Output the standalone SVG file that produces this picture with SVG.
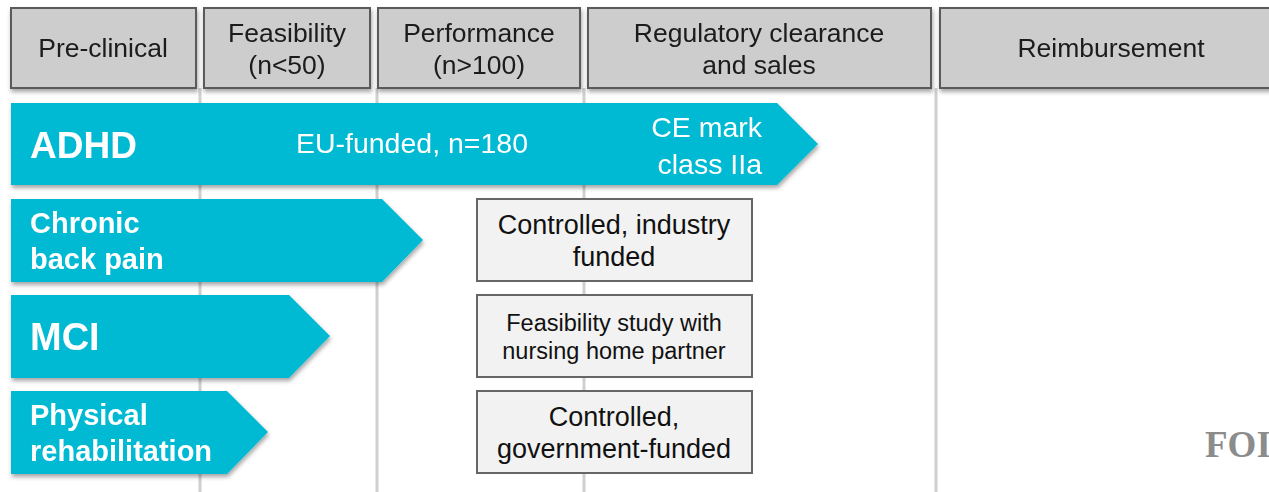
<svg xmlns="http://www.w3.org/2000/svg" width="1269" height="492" viewBox="0 0 1269 492">
<defs>
<filter id="sh" x="-5%" y="-10%" width="115%" height="130%">
<feDropShadow dx="1" dy="3" stdDeviation="2" flood-color="#000" flood-opacity="0.35"/>
</filter>
<style>
.hdr{fill:#cdcdcd;stroke:#5a5a5a;stroke-width:2}
.ht{font-family:"Liberation Sans",Arial,sans-serif;font-size:26.5px;fill:#1a1a1a;text-anchor:middle}
.arr{fill:#00b9d3}
.lb{font-family:"Liberation Sans",Arial,sans-serif;font-weight:bold;fill:#fff}
.wt{font-family:"Liberation Sans",Arial,sans-serif;font-size:28.5px;fill:#fff}
.bx{fill:#f2f2f2;stroke:#666;stroke-width:2}
.bt{font-family:"Liberation Sans",Arial,sans-serif;fill:#111;text-anchor:middle}
.vl{stroke:#cfcfcf;stroke-width:3}
</style>
</defs>
<rect width="1269" height="492" fill="#fff"/>
<g id="connectors">
<line class="vl" x1="200" y1="88" x2="200" y2="492"/>
<line class="vl" x1="377" y1="88" x2="377" y2="492"/>
<line class="vl" x1="584" y1="88" x2="584" y2="492"/>
<line class="vl" x1="936" y1="88" x2="936" y2="492"/>
</g>
<g id="h-preclinical" filter="url(#sh)">
<rect class="hdr" x="11" y="8" width="185" height="80"/>
<text class="ht" x="103" y="57">Pre-clinical</text>
</g>
<g id="h-feasibility" filter="url(#sh)">
<rect class="hdr" x="204" y="8" width="166" height="80"/>
<text class="ht" x="287" y="42">Feasibility</text>
<text class="ht" x="287" y="74">(n&lt;50)</text>
</g>
<g id="h-performance" filter="url(#sh)">
<rect class="hdr" x="378" y="8" width="202" height="80"/>
<text class="ht" x="479" y="42">Performance</text>
<text class="ht" x="479" y="74">(n&gt;100)</text>
</g>
<g id="h-regulatory" filter="url(#sh)">
<rect class="hdr" x="588" y="8" width="343" height="80"/>
<text class="ht" x="759" y="42">Regulatory clearance</text>
<text class="ht" x="759" y="74">and sales</text>
</g>
<g id="h-reimbursement" filter="url(#sh)">
<rect class="hdr" x="940" y="8" width="340" height="80"/>
<text class="ht" x="1111" y="57">Reimbursement</text>
</g>
<g id="adhd" filter="url(#sh)">
<polygon class="arr" points="11,103 777,103 818,144 777,185 11,185"/>
<text class="lb" x="30" y="158" font-size="37">ADHD</text>
<text class="wt" x="412" y="153" text-anchor="middle">EU-funded, n=180</text>
<text class="wt" x="762" y="137" text-anchor="end">CE mark</text>
<text class="wt" x="762" y="174" text-anchor="end">class IIa</text>
</g>
<g id="chronic" filter="url(#sh)">
<polygon class="arr" points="11,199 382,199 423,240 382,282 11,282"/>
<text class="lb" x="30" y="233" font-size="29">Chronic</text>
<text class="lb" x="30" y="269" font-size="29">back pain</text>
</g>
<g id="mci" filter="url(#sh)">
<polygon class="arr" points="11,295 289,295 330,336 289,378 11,378"/>
<text class="lb" x="30" y="350" font-size="38">MCI</text>
</g>
<g id="physical" filter="url(#sh)">
<polygon class="arr" points="11,391 227,391 268,432 227,474 11,474"/>
<text class="lb" x="30" y="425" font-size="29">Physical</text>
<text class="lb" x="30" y="461" font-size="29">rehabilitation</text>
</g>
<g id="box-industry">
<rect class="bx" x="477" y="199" width="275" height="82"/>
<text class="bt" x="614" y="234" font-size="27">Controlled, industry</text>
<text class="bt" x="614" y="266" font-size="27">funded</text>
</g>
<g id="box-nursing">
<rect class="bx" x="477" y="295" width="275" height="82"/>
<text class="bt" x="614" y="331" font-size="23.5">Feasibility study with</text>
<text class="bt" x="614" y="359" font-size="23.5">nursing home partner</text>
</g>
<g id="box-government">
<rect class="bx" x="477" y="391" width="275" height="82"/>
<text class="bt" x="614" y="426" font-size="27">Controlled,</text>
<text class="bt" x="614" y="458" font-size="27">government-funded</text>
</g>
<text x="1205" y="457" font-family="'Liberation Serif','Times New Roman',serif" font-weight="bold" font-size="37" fill="#8c8c8c">FOI</text>
</svg>
